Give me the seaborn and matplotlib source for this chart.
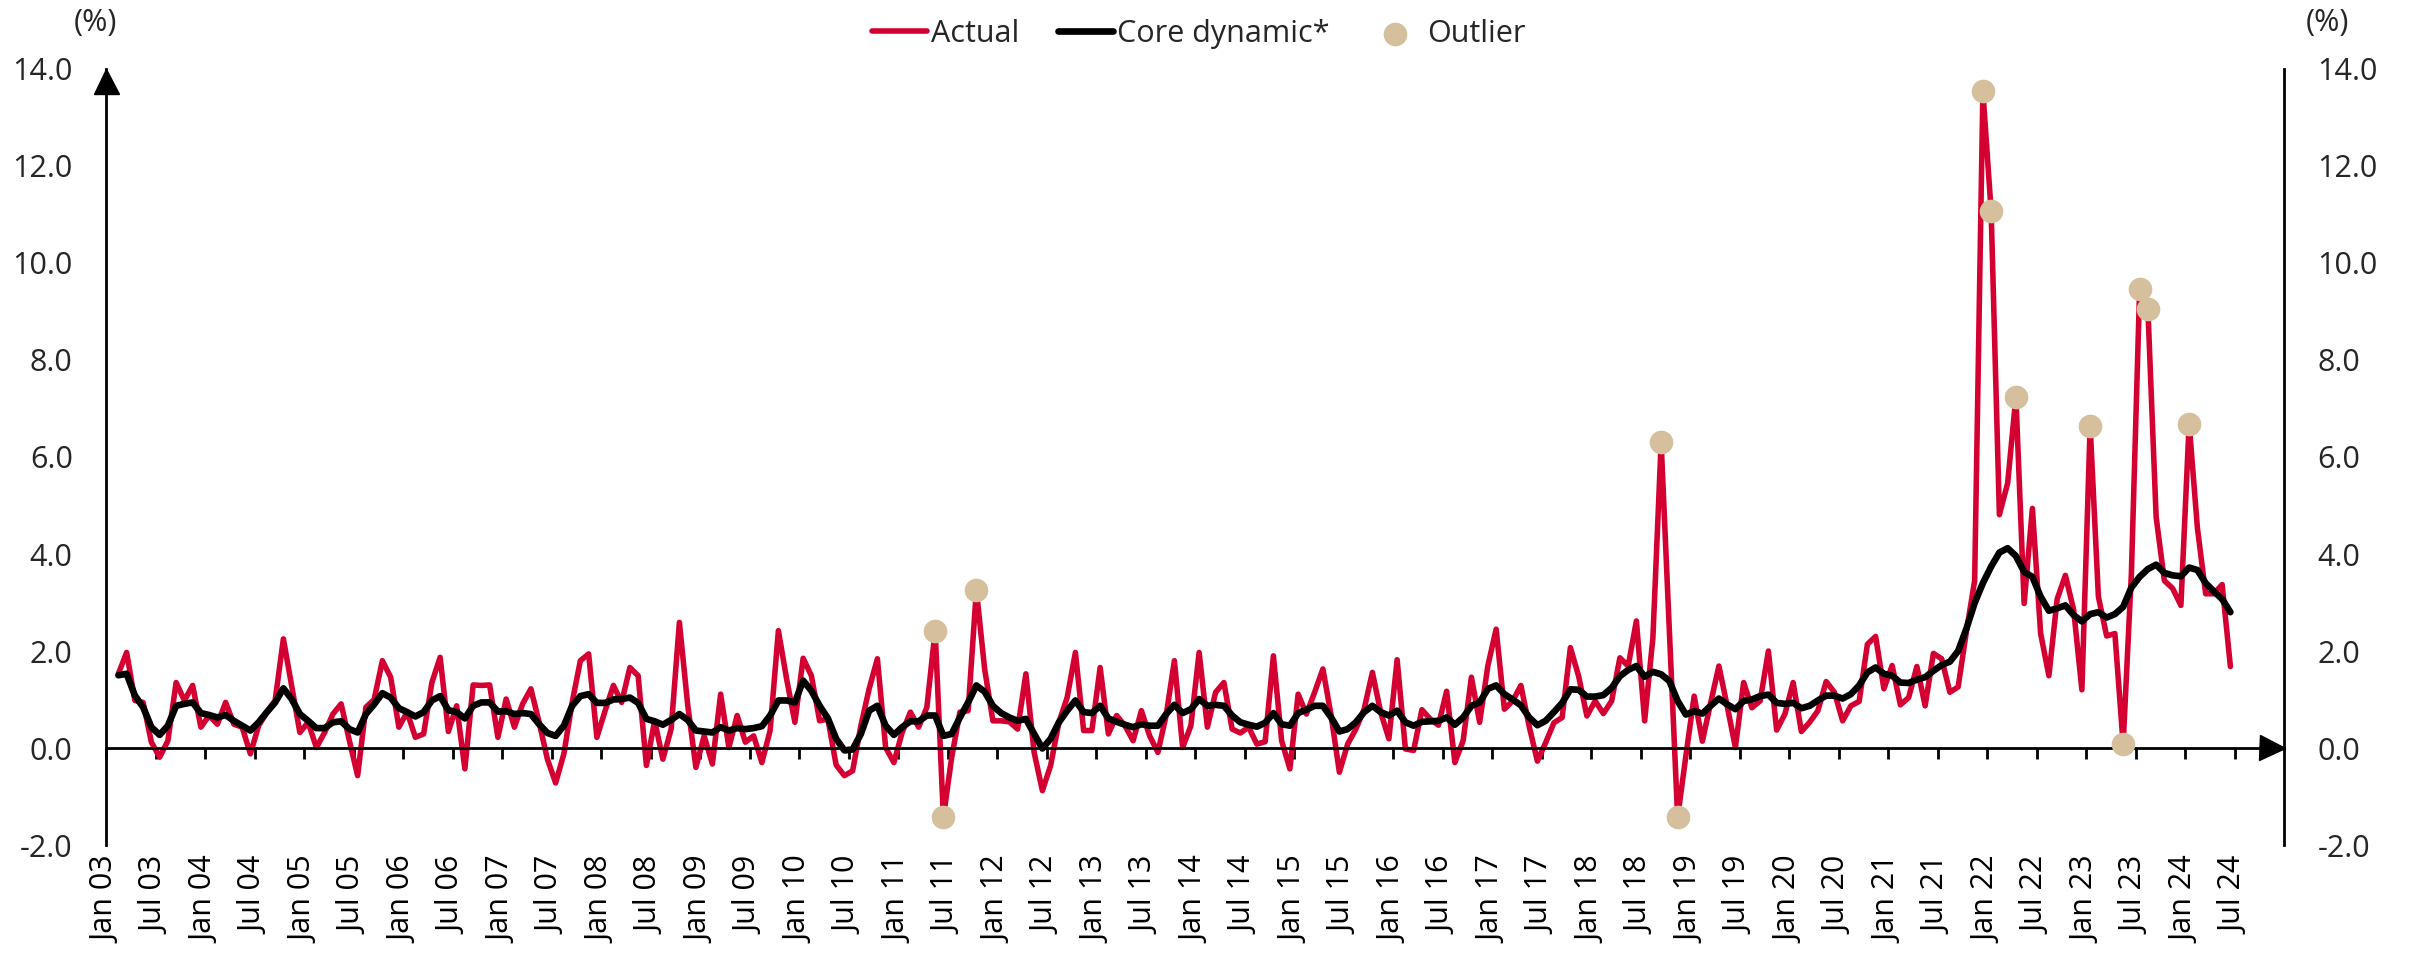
import numpy as np
import matplotlib.pyplot as plt
import seaborn as sns
import pandas as pd

# monthly change, Feb 2003 - Jun 2024 (%)
start_month = "2003-02"

actual = [
    1.53, 1.97, 0.98, 0.94, 0.12, -0.19, 0.15, 1.35, 0.98, 1.29, 0.43,
    0.67, 0.49, 0.94, 0.49, 0.43, -0.12, 0.46, 0.74, 0.98, 2.25, 1.29, 0.32,
    0.53, 0.01, 0.32, 0.70, 0.91, 0.15, -0.57, 0.84, 1.00, 1.80, 1.46, 0.43,
    0.74, 0.22, 0.29, 1.35, 1.87, 0.34, 0.87, -0.43, 1.30, 1.29, 1.30, 0.22,
    1.01, 0.43, 0.91, 1.22, 0.53, -0.23, -0.72, -0.12, 0.94, 1.80, 1.94, 0.22,
    0.77, 1.29, 0.94, 1.66, 1.49, -0.36, 0.56, -0.23, 0.39, 2.59, 0.90, -0.40,
    0.25, -0.33, 1.11, 0.01, 0.67, 0.12, 0.25, -0.30, 0.36, 2.42, 1.42, 0.53,
    1.85, 1.49, 0.56, 0.60, -0.35, -0.57, -0.47, 0.46, 1.22, 1.84, 0.01, -0.30,
    0.32, 0.74, 0.43, 0.84, 2.42, -1.43, -0.20, 0.74, 0.77, 3.26, 1.63, 0.56,
    0.56, 0.54, 0.39, 1.53, -0.09, -0.88, -0.36, 0.53, 1.04, 1.97, 0.36, 0.36,
    1.66, 0.29, 0.67, 0.46, 0.15, 0.77, 0.25, -0.09, 0.67, 1.80, 0.01, 0.46,
    1.97, 0.43, 1.15, 1.35, 0.39, 0.31, 0.43, 0.08, 0.13, 1.90, 0.15, -0.43,
    1.11, 0.70, 1.15, 1.63, 0.67, -0.50, 0.08, 0.39, 0.80, 1.56, 0.74, 0.19,
    1.82, -0.02, -0.05, 0.79, 0.60, 0.47, 1.17, -0.30, 0.15, 1.46, 0.53, 1.70,
    2.45, 0.80, 0.97, 1.29, 0.45, -0.27, 0.11, 0.52, 0.63, 2.07, 1.48, 0.66,
    0.97, 0.71, 0.97, 1.86, 1.69, 2.62, 0.56, 2.27, 6.30, 2.40, -1.43, -0.16,
    1.07, 0.14, 0.93, 1.69, 0.87, 0.01, 1.35, 0.83, 0.97, 2.00, 0.37, 0.70,
    1.35, 0.34, 0.53, 0.77, 1.37, 1.15, 0.56, 0.87, 0.96, 2.14, 2.30, 1.22,
    1.70, 0.89, 1.04, 1.68, 0.87, 1.95, 1.84, 1.15, 1.26, 2.40, 3.45, 13.54,
    11.07, 4.81, 5.46, 7.24, 2.98, 4.94, 2.36, 1.49, 3.07, 3.56, 2.85, 1.20,
    6.64, 3.12, 2.31, 2.36, 0.08, 3.60, 9.47, 9.05, 4.76, 3.45, 3.29, 2.94,
    6.69, 4.54, 3.18, 3.18, 3.37, 1.68,
]

core = [
    1.50, 1.53, 1.08, 0.84, 0.43, 0.27, 0.46, 0.87, 0.91, 0.94, 0.72,
    0.68, 0.63, 0.68, 0.56, 0.46, 0.36, 0.53, 0.74, 0.94, 1.23, 1.01, 0.70,
    0.56, 0.41, 0.41, 0.53, 0.55, 0.39, 0.32, 0.70, 0.90, 1.13, 1.04, 0.82,
    0.74, 0.65, 0.74, 0.98, 1.07, 0.78, 0.74, 0.61, 0.87, 0.94, 0.94, 0.75,
    0.76, 0.70, 0.72, 0.70, 0.49, 0.31, 0.25, 0.46, 0.87, 1.07, 1.11, 0.93,
    0.93, 1.00, 1.01, 1.04, 0.93, 0.60, 0.55, 0.48, 0.58, 0.70, 0.58, 0.36,
    0.34, 0.32, 0.43, 0.36, 0.41, 0.39, 0.41, 0.45, 0.67, 0.98, 0.98, 0.94,
    1.39, 1.18, 0.87, 0.61, 0.19, -0.05, -0.03, 0.29, 0.77, 0.87, 0.46, 0.27,
    0.43, 0.55, 0.55, 0.67, 0.67, 0.25, 0.29, 0.63, 0.94, 1.29, 1.16, 0.87,
    0.72, 0.63, 0.56, 0.60, 0.29, -0.01, 0.19, 0.53, 0.77, 0.98, 0.74, 0.72,
    0.87, 0.61, 0.54, 0.48, 0.43, 0.49, 0.46, 0.46, 0.70, 0.89, 0.72, 0.80,
    1.01, 0.87, 0.89, 0.87, 0.67, 0.53, 0.48, 0.44, 0.52, 0.72, 0.49, 0.46,
    0.72, 0.79, 0.87, 0.87, 0.63, 0.34, 0.39, 0.53, 0.74, 0.87, 0.74, 0.67,
    0.77, 0.53, 0.46, 0.54, 0.55, 0.56, 0.63, 0.48, 0.63, 0.87, 0.94, 1.22,
    1.29, 1.11, 1.00, 0.88, 0.63, 0.47, 0.56, 0.74, 0.93, 1.21, 1.20, 1.06,
    1.06, 1.09, 1.24, 1.48, 1.61, 1.69, 1.47, 1.57, 1.52, 1.38, 0.97, 0.69,
    0.76, 0.71, 0.87, 1.02, 0.90, 0.80, 0.97, 1.00, 1.07, 1.10, 0.93, 0.91,
    0.93, 0.82, 0.87, 0.98, 1.08, 1.08, 1.02, 1.11, 1.29, 1.56, 1.66, 1.53,
    1.49, 1.35, 1.34, 1.41, 1.46, 1.59, 1.71, 1.78, 2.00, 2.46, 2.99, 3.40,
    3.74, 4.03, 4.12, 3.96, 3.63, 3.53, 3.12, 2.83, 2.88, 2.94, 2.74, 2.61,
    2.76, 2.80, 2.69, 2.76, 2.91, 3.31, 3.53, 3.69, 3.78, 3.61, 3.56, 3.54,
    3.72, 3.67, 3.40, 3.23, 3.07, 2.80,
]

outlier_months = ["2011-05", "2011-06", "2011-10", "2018-09", "2018-11",
                  "2021-12", "2022-01", "2022-04", "2023-01", "2023-05",
                  "2023-07", "2023-08", "2024-01"]

y_ticks = [-2, 0, 2, 4, 6, 8, 10, 12, 14]

RED = "#D50032"
TAN = "#D5BF9D"

# months since Jan 03, points sit in the middle of their month
months = pd.period_range(start_month, periods=len(actual), freq="M")
df = pd.DataFrame({"month": months.strftime("%Y-%m"),
                   "pos": (months.year - 2003) * 12 + months.month - 1 + 0.5,
                   "actual": actual, "core": core})
out_df = df[df["month"].isin(outlier_months)]

tick_pos = list(range(0, 259, 6))
tick_labels = [("Jan " if p % 12 == 0 else "Jul ") + f"{(3 + p // 12) % 100:02d}"
               for p in tick_pos]

sns.set_style("white")
plt.rcParams["font.family"] = ["Open Sans", "DejaVu Sans"]
plt.rcParams["font.size"] = 22

fig = plt.figure(figsize=(24.12, 9.65), dpi=100)
ax = fig.add_axes([0.04395, 0.12435, 0.90299, 0.80415])

sns.lineplot(data=df, x="pos", y="actual", color=RED, linewidth=4.0,
             label="Actual", ax=ax, zorder=2)
sns.lineplot(data=df, x="pos", y="core", color="black", linewidth=4.8,
             label="Core dynamic*", ax=ax, zorder=4)
sns.scatterplot(data=out_df, x="pos", y="actual", color=TAN, s=290,
                linewidth=0, label="Outlier", ax=ax, zorder=3)

ax.set_xlim(0, 264)
ax.set_ylim(-2, 14)
ax.set_xlabel("")
ax.set_ylabel("")

ax.set_xticks(tick_pos)
ax.set_xticklabels(tick_labels)
ax.tick_params(axis="x", direction="out", length=8, width=2, pad=70,
               bottom=True, colors="black", labelrotation=90)
ax.set_yticks(y_ticks)
ax.set_yticklabels([f"{v:.1f}" for v in y_ticks])
ax.tick_params(axis="y", length=0, pad=24, left=False, right=False,
               labelleft=True, labelright=True)

ax.spines["top"].set_visible(False)
ax.spines["bottom"].set_position(("data", 0))
for s in ["left", "right", "bottom"]:
    ax.spines[s].set_linewidth(2)
    ax.spines[s].set_color("black")

# arrow heads on the zero line and the left axis
ax.plot(0.9943, 0, ">", color="black", ms=18, transform=ax.get_yaxis_transform(),
        clip_on=False)
ax.plot(0, 0.984, "^", color="black", ms=18, transform=ax.transAxes,
        clip_on=False)

handles, labels = ax.get_legend_handles_labels()
ax.get_legend().remove()
fig.legend(handles, labels, loc="center", bbox_to_anchor=(0.497, 0.965),
           ncol=3, frameon=False, handlelength=1.8, handletextpad=0.15,
           columnspacing=1.25, fontsize=22)

fig.text(95 / 2412, 1 - 23 / 965, "(%)", ha="center", va="center", fontsize=22)
fig.text(2327 / 2412, 1 - 23 / 965, "(%)", ha="center", va="center", fontsize=22)

plt.savefig("out.png", dpi=100)
